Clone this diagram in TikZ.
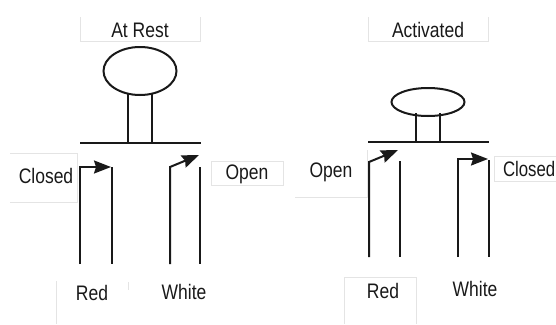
\documentclass[tikz,border=0pt]{standalone}
\usepackage{fontspec}
\setmainfont{Liberation Sans}
\usetikzlibrary{arrows.meta,shapes.geometric}
\definecolor{faint}{HTML}{E4E4E4}
\tikzset{
  wire/.style={line width=2pt,black!90},
  pointer/.style={wire,-{Stealth[length=17pt,width=13pt,inset=2pt]}},
  knob/.style={draw,ellipse,wire,inner sep=0pt},
  lbl/.style={inner sep=0pt,font=\fontsize{17.5}{20}\selectfont,text=black!90,yscale=1.2,transform shape}
}
\begin{document}
\begin{tikzpicture}[x=1pt,y=-1pt]
  \useasboundingbox (0,0) rectangle (556,324);

  % leftovers of the pasted label boxes
  \draw[faint] (80,17) -- (80,41) -- (200,41) -- (200,17);
  \draw[faint] (10,153) -- (77,153) -- (77,202) -- (10,202);
  \draw[faint] (211,185) -- (211,161) -- (283,161) -- (283,185) -- cycle;
  \draw[faint] (56,281) -- (56,324);
  \draw[faint] (128,282) -- (128,290);
  \draw[faint] (368,17) -- (368,41) -- (488,41) -- (488,17);
  \draw[faint] (295,197) -- (367,197) -- (367,150);
  \draw[faint] (556,156) -- (494,156) -- (494,181) -- (556,181);
  \draw[faint] (344,324) -- (344,277) -- (416,277) -- (416,324);

  % at rest
  \path
  (140,30) node[lbl](restT) {At Rest}
  (46,176) node[lbl](restC) {Closed}
  (247,174) node[lbl](restO) {Open}
  (92,293) node[lbl](restR) {Red}
  (184,292) node[lbl](restW) {White}
  (140,71) node[knob,minimum width=73pt,minimum height=48pt](restK) {}
  (128,94) coordinate(restA)
  (152,94) coordinate(restB)
  (128,143) coordinate(restAb)
  (152,143) coordinate(restBb)
  (80,143) coordinate(restL)
  (201,143) coordinate(restE)
  (80,264) coordinate(r1)
  (80,167) coordinate(r1t)
  (111,167) coordinate(r1p)
  (112,167) coordinate(r2t)
  (112,264) coordinate(r2)
  (170,264) coordinate(w1)
  (170,167) coordinate(w1t)
  (199,155) coordinate(w1p)
  (200,167) coordinate(w2t)
  (200,264) coordinate(w2)
  ;

  \draw[wire] (restA) -- (restAb);
  \draw[wire] (restB) -- (restBb);
  \draw[wire] (restL) -- (restE);
  \draw[wire] (r2t) -- (r2);
  \draw[wire] (w2t) -- (w2);
  \draw[pointer] (r1) -- (r1t) -- (r1p);
  \draw[pointer] (w1) -- (w1t) -- (w1p);

  % activated
  \path
  (428,30) node[lbl](actT) {Activated}
  (331,172) node[lbl](actO) {Open}
  (555.5,169) node[lbl,anchor=east,xscale=.96](actC) {Closed}
  (383,291) node[lbl](actR) {Red}
  (475,289) node[lbl](actW) {White}
  (428,102) node[knob,minimum width=73pt,minimum height=28pt](actK) {}
  (416,113) coordinate(actA)
  (440,113) coordinate(actB)
  (416,142) coordinate(actAb)
  (440,142) coordinate(actBb)
  (368,142) coordinate(actL)
  (489,142) coordinate(actE)
  (369,257) coordinate(r3)
  (369,162) coordinate(r3t)
  (398,150) coordinate(r3p)
  (400,161) coordinate(r4t)
  (400,257) coordinate(r4)
  (458,257) coordinate(w3)
  (458,159) coordinate(w3t)
  (488,159) coordinate(w3p)
  (489,160) coordinate(w4t)
  (489,257) coordinate(w4)
  ;

  \draw[wire] (actA) -- (actAb);
  \draw[wire] (actB) -- (actBb);
  \draw[wire] (actL) -- (actE);
  \draw[wire] (r4t) -- (r4);
  \draw[wire] (w4t) -- (w4);
  \draw[pointer] (r3) -- (r3t) -- (r3p);
  \draw[pointer] (w3) -- (w3t) -- (w3p);
\end{tikzpicture}
\end{document}
